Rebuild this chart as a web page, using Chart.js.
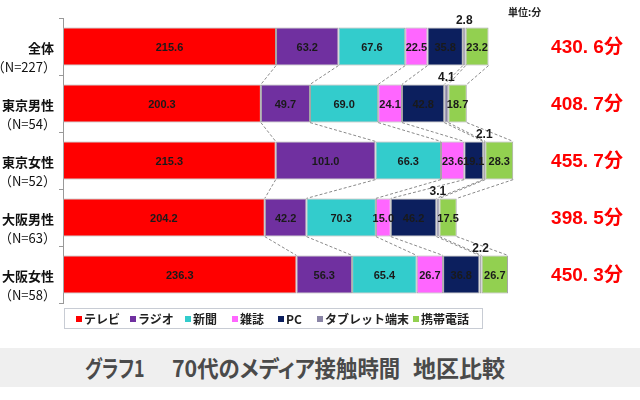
<!DOCTYPE html>
<html>
<head>
<meta charset="utf-8">
<script src="https://cdn.jsdelivr.net/npm/chart.js@4"></script>
<style>
  body { margin: 0; background: #fff; width: 640px; height: 400px; position: relative; overflow: hidden;
         font-family: "Liberation Sans", "Noto Sans CJK JP", sans-serif; }
  #wrap { position: absolute; left: 0; top: 0; width: 640px; height: 345px; }
  #legend { position: absolute; left: 64px; top: 308px; width: 417px; height: 19px; border: 1px solid #c8ccd4;
            font-weight: bold; font-size: 12px; color: #222; line-height: 19px;
            white-space: nowrap; font-family: "Noto Sans CJK JP", sans-serif; }
  #legend span { position: absolute; top: 0; display: inline-flex; align-items: center; height: 19px; }
  #legend i { display: inline-block; width: 6px; height: 6px; margin-right: 2px; }
  #title { position: absolute; left: 0; top: 348px; width: 640px; height: 39px; background: #efefef;
           font-family: "Noto Sans CJK JP", sans-serif; font-size: 23px; font-weight: bold; color: #4a4a4a;
           line-height: 39px; white-space: nowrap; font-feature-settings: "palt" 1; }
  #title span { position: absolute; top: 0; transform-origin: left center; }
</style>
</head>
<body>
<div id="wrap"><canvas id="chart"></canvas></div>
<div id="legend"></div>
<div id="title"><span style="left:85px;transform:scaleX(0.78)">グラフ1</span><span style="left:172px;transform:scaleX(0.93)">70代のメディア接触時間</span><span style="left:413px">地区比較</span></div>
<script>
// カテゴリ
const categories = ['全体', '東京男性', '東京女性', '大阪男性', '大阪女性'];
const sampleSizes = ['（N=227）', '（N=54）', '（N=52）', '（N=63）', '（N=58）'];
const mediaNames = ['テレビ', 'ラジオ', '新聞', '雑誌', 'PC', 'タブレット端末', '携帯電話'];
const mediaColors = ['#ff0000', '#7030a0', '#33cccc', '#ff66ff', '#0c1f5e', '#8a85a6', '#92d050'];

// 各メディアの接触時間（分）
const tv        = [215.6, 200.3, 215.3, 204.2, 236.3];
const radio     = [63.2, 49.7, 101.0, 42.2, 56.3];
const newspaper = [67.6, 69.0, 66.3, 70.3, 65.4];
const magazine  = [22.5, 24.1, 23.6, 15.0, 26.7];
const pc        = [35.8, 42.8, 19.1, 46.2, 36.8];
const tablet    = [2.8, 4.1, 2.1, 3.1, 2.2];
const mobile    = [23.2, 18.7, 28.3, 17.5, 26.7];
const totals    = [430.6, 408.7, 455.7, 398.5, 450.3];

const series = [tv, radio, newspaper, magazine, pc, tablet, mobile];

// 凡例（項目の左位置）
const legendX = [11, 65, 120, 167, 213, 252, 348];
const legend = document.getElementById('legend');
mediaNames.forEach((name, i) => {
    const s = document.createElement('span');
    s.style.left = legendX[i] + 'px';
    s.innerHTML = '<i style="background:' + mediaColors[i] + '"></i>' + name;
    legend.appendChild(s);
});

// 区分線・ラベル描画
const extras = {
    id: 'extras',
    afterDatasetsDraw(chart) {
        const ctx = chart.ctx;
        const xs = chart.scales.x;
        const metas = series.map((_, i) => chart.getDatasetMeta(i));

        // 系列線（破線）
        ctx.save();
        ctx.strokeStyle = '#8a8a8a';
        ctx.lineWidth = 1;
        ctx.setLineDash([3, 2]);
        for (let r = 0; r < categories.length - 1; r++) {
            let c1 = 0, c2 = 0;
            series.forEach((s, k) => {
                c1 += s[r]; c2 += s[r + 1];
                const a = metas[k].data[r], b = metas[k].data[r + 1];
                ctx.beginPath();
                ctx.moveTo(xs.getPixelForValue(c1), a.y + a.height / 2);
                ctx.lineTo(xs.getPixelForValue(c2), b.y - b.height / 2);
                ctx.stroke();
            });
        }
        ctx.restore();

        // 値ラベル
        ctx.save();
        ctx.textAlign = 'center';
        ctx.textBaseline = 'middle';
        ctx.fillStyle = '#1a1a1a';
        series.forEach((s, k) => {
            metas[k].data.forEach((el, r) => {
                const cx = (el.x + el.base) / 2;
                if (k === 5) {
                    ctx.font = 'bold 12px "Liberation Sans"';
                    ctx.fillText(s[r].toFixed(1), cx, el.y - el.height / 2 - 7);
                } else {
                    ctx.font = 'bold 11px "Liberation Sans"';
                    ctx.fillText(s[r].toFixed(1), cx, el.y + 1);
                }
            });
        });

        // 合計
        ctx.fillStyle = '#ff0000';
        ctx.font = 'bold 19px "Liberation Sans", "Noto Sans CJK JP"';
        metas[0].data.forEach((el, r) => {
            const t = totals[r].toFixed(1).replace('.', '. ') + '分';
            ctx.fillText(t, 587, el.y + 1);
        });

        // カテゴリラベル
        ctx.textAlign = 'right';
        ctx.fillStyle = '#111';
        metas[0].data.forEach((el, r) => {
            ctx.font = 'bold 13px "Noto Sans CJK JP"';
            ctx.fillText(categories[r], 54, el.y + 2);
            ctx.font = '13px "Noto Sans CJK JP"';
            ctx.fillText(sampleSizes[r], 56, el.y + 21);
        });

        // 単位
        ctx.textAlign = 'left';
        ctx.font = 'bold 10px "Noto Sans CJK JP"';
        ctx.fillStyle = '#222';
        ctx.fillText('単位:分', 508, 12);
        ctx.restore();
    }
};

new Chart(document.getElementById('chart'), {
    type: 'bar',
    data: {
        labels: categories,
        datasets: series.map((s, i) => ({
            label: mediaNames[i],
            data: s,
            backgroundColor: mediaColors[i],
            borderColor: '#a6a6a6',
            borderWidth: 1,
            borderSkipped: false,
            categoryPercentage: 1,
            barPercentage: 0.67
        }))
    },
    options: {
        indexAxis: 'y',
        responsive: true,
        maintainAspectRatio: false,
        animation: false,
        layout: { padding: { top: 18, bottom: 42, right: 83, left: 0 } },
        plugins: { legend: { display: false }, tooltip: { enabled: false } },
        scales: {
            x: { stacked: true, min: 0, max: 500, display: false },
            y: {
                stacked: true,
                ticks: { display: false },
                grid: { drawOnChartArea: false, tickLength: 4, color: '#999', offset: true },
                border: { color: '#999' },
                afterFit(scale) { scale.width = 63; }
            }
        }
    },
    plugins: [extras]
});
</script>
</body>
</html>
